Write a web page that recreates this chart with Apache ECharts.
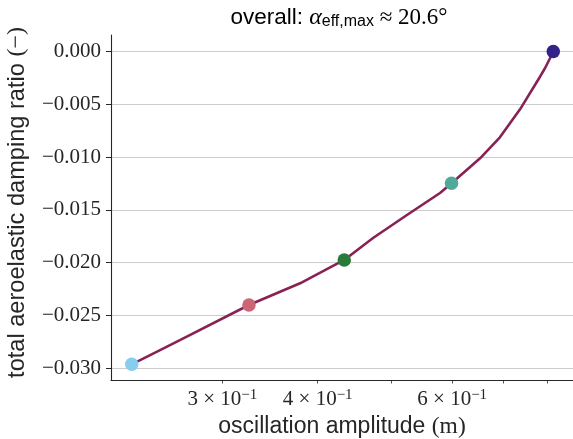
<!DOCTYPE html>
<html>
<head>
<meta charset="utf-8">
<script src="https://cdn.jsdelivr.net/npm/echarts@6/dist/echarts.min.js"></script>
<style>
  html, body { margin: 0; padding: 0; background: #ffffff; }
  #chart { width: 573px; height: 439px; }
</style>
</head>
<body>
<div id="chart"></div>
<script>
// Oscillation amplitude (m) and total aeroelastic damping ratio along the curve
const amplitude = [0.2283, 0.2640, 0.3251, 0.3793, 0.4333, 0.4726, 0.5235, 0.5784,
                   0.5988, 0.6526, 0.6928, 0.7362, 0.7819, 0.7937, 0.8058, 0.8138];
const damping = [-0.02965, -0.02735, -0.02403, -0.02197, -0.01976, -0.01768, -0.01550, -0.01341,
                 -0.01249, -0.01012, -0.00813, -0.00548, -0.00239, -0.00159, -0.00064, 0.0000];

// Highlighted operating points (indices into the arrays above) and their colours
const markerIndex = [0, 2, 4, 8, 15];
const markerColors = ['#88CCEE', '#CC6677', '#2A7A3A', '#4FAA9A', '#332288'];

// Axis ticks
const xTickValues = [0.3, 0.4, 0.5, 0.6, 0.7, 0.8];
const xLabelValues = [0.3, 0.4, 0.6];
const yTickValues = [-0.030, -0.025, -0.020, -0.015, -0.010, -0.005, 0.000];

const ink = '#262626';
const serif = '"Liberation Serif", "DejaVu Serif", serif';
const sans = '"Liberation Sans", Arial, sans-serif';

const linePoints = amplitude.map((a, i) => [a, damping[i]]);
const markerPoints = markerIndex.map((idx, k) => ({
  value: [amplitude[idx], damping[idx]],
  itemStyle: { color: markerColors[k] }
}));

const chart = echarts.init(document.getElementById('chart'), null, { renderer: 'canvas' });

chart.setOption({
  animation: false,
  backgroundColor: '#ffffff',
  title: {
    text: '{s|overall: }{a|α}{sub|eff,max}{m| ≈ 20.6°}',
    left: 339,
    top: 6,
    textAlign: 'center',
    padding: 0,
    textStyle: {
      fontWeight: 'normal',
      rich: {
        s: { fontFamily: sans, fontSize: 22.5, fontWeight: 'normal', color: '#000', lineHeight: 24 },
        a: { fontFamily: serif, fontStyle: 'italic', fontWeight: 'normal', fontSize: 24, color: '#000', lineHeight: 24 },
        sub: { fontFamily: sans, fontSize: 16, fontWeight: 'normal', color: '#000', lineHeight: 8, verticalAlign: 'bottom' },
        m: { fontFamily: serif, fontSize: 23, fontWeight: 'normal', color: '#000', lineHeight: 24 }
      }
    }
  },
  grid: { left: 111, right: 0, top: 35, bottom: 59, containLabel: false, outerBoundsMode: 'none' },
  xAxis: {
    type: 'log',
    logBase: 10,
    min: 0.21447,
    max: 0.86367,
    name: '{t|oscillation amplitude }{p|(m)}',
    nameLocation: 'middle',
    nameGap: 26,
    nameTextStyle: {
      rich: {
        t: { fontFamily: sans, fontSize: 23, color: ink },
        p: { fontFamily: serif, fontSize: 23.5, color: ink }
      }
    },
    axisLine: { show: true, onZero: false, lineStyle: { color: ink, width: 1.1 } },
    axisTick: { show: true, length: 3.5, inside: false, customValues: xTickValues,
                lineStyle: { color: ink, width: 0.8 } },
    minorTick: { show: false },
    splitLine: { show: false },
    axisLabel: {
      customValues: xLabelValues,
      margin: 8,
      formatter: v => Math.round(v * 10) + ' × 10{sup|−1}',
      fontFamily: serif,
      fontSize: 21,
      color: ink,
      lineHeight: 22,
      rich: {
        sup: { fontFamily: serif, fontSize: 15, color: ink, lineHeight: 8, verticalAlign: 'top' }
      }
    }
  },
  yAxis: {
    type: 'value',
    min: -0.031137,
    max: 0.001564,
    name: '{t|total aeroelastic damping ratio }{p|(−)}',
    nameLocation: 'middle',
    nameGap: 82,
    nameRotate: 90,
    nameTextStyle: {
      padding: [0, 0, 0, 10],
      rich: {
        t: { fontFamily: sans, fontSize: 23.6, color: ink },
        p: { fontFamily: serif, fontSize: 24, color: ink }
      }
    },
    axisLine: { show: true, onZero: false, lineStyle: { color: ink, width: 1.1 } },
    axisTick: { show: true, length: 5, inside: false, customValues: yTickValues,
                lineStyle: { color: ink, width: 1 } },
    axisLabel: {
      customValues: yTickValues,
      margin: 10,
      fontFamily: serif,
      fontSize: 21,
      color: ink,
      formatter: v => (v < 0 ? '−' : '') + Math.abs(v).toFixed(3)
    },
    splitLine: { show: true, lineStyle: { color: '#cccccc', width: 1 } }
  },
  series: [
    {
      type: 'line',
      data: linePoints,
      showSymbol: false,
      symbol: 'none',
      smooth: false,
      lineStyle: { color: '#882255', width: 2.6 },
      z: 2
    },
    {
      type: 'scatter',
      data: markerPoints,
      symbol: 'circle',
      symbolSize: 13.5,
      itemStyle: { opacity: 1 },
      z: 3
    }
  ]
});
</script>
</body>
</html>
